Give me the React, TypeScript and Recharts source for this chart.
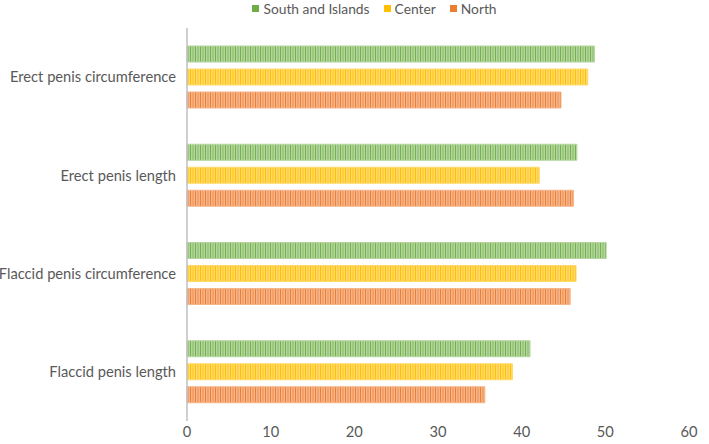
import React from "react";
import { BarChart, Bar, XAxis, YAxis, Legend } from "recharts";

const categories = [
  "Erect penis circumference",
  "Erect penis length",
  "Flaccid penis circumference",
  "Flaccid penis length",
];
const southAndIslands = [48.7, 46.6, 50.1, 41.0];
const center = [47.9, 42.1, 46.5, 38.9];
const north = [44.7, 46.2, 45.8, 35.6];
const xTicks = [0, 10, 20, 30, 40, 50, 60];

const seriesInfo = [
  { key: "south", name: "South and Islands", color: "#70ad47", bg: "#b4d69e", stripe: "#74b04c" },
  { key: "center", name: "Center", color: "#ffc000", bg: "#ffda6b", stripe: "#ffc000" },
  { key: "north", name: "North", color: "#ed7d31", bg: "#f5b58a", stripe: "#ee7f36" },
];

const data = categories.map((c, i) => ({
  name: c,
  south: southAndIslands[i],
  center: center[i],
  north: north[i],
}));

const FONT = "Lato, 'Open Sans', sans-serif";
const TEXT = "#595959";

const LegendContent = () => (
  <div
    style={{
      display: "flex",
      justifyContent: "center",
      alignItems: "center",
      fontFamily: FONT,
      fontSize: 13.8,
      color: TEXT,
      gap: 14,
      paddingLeft: 40,
      height: 16,
    }}
  >
    {seriesInfo.map((s) => (
      <div key={s.key} style={{ display: "flex", alignItems: "center" }}>
        <span
          style={{
            display: "inline-block",
            width: 7,
            height: 7,
            background: s.color,
            marginRight: 4,
          }}
        />
        <span>{s.name}</span>
      </div>
    ))}
  </div>
);

export default function App() {
  return (
    <div style={{ position: "absolute", left: 0, top: 0, width: 709, height: 444, background: "#fff" }}>
      <svg width={0} height={0} style={{ position: "absolute" }}>
        <defs>
          {seriesInfo.map((s) => (
            <pattern
              key={s.key}
              id={`pat-${s.key}`}
              patternUnits="userSpaceOnUse"
              width={5}
              height={10}
            >
              <rect x={0} y={0} width={5} height={10} fill={s.bg} />
              <rect x={0} y={0} width={1} height={10} fill={s.stripe} />
              <rect x={2.5} y={0} width={1} height={10} fill={s.stripe} opacity={0.7} />
            </pattern>
          ))}
        </defs>
      </svg>
      <BarChart
        width={709}
        height={444}
        data={data}
        layout="vertical"
        margin={{ top: 12, right: 20, bottom: 0, left: 0 }}
        barSize={16}
        barGap={7}
      >
        <Legend
          verticalAlign="top"
          height={16}
          content={<LegendContent />}
          wrapperStyle={{ position: "absolute", top: 0, left: 0, width: 709, height: 16 }}
        />
        <XAxis
          type="number"
          domain={[0, 60]}
          ticks={xTicks}
          axisLine={false}
          tickLine={false}
          tickSize={0}
          tickMargin={6}
          height={23}
          tick={{ fill: TEXT, fontSize: 14.7, fontFamily: FONT }}
          interval={0}
        />
        <YAxis
          type="category"
          dataKey="name"
          width={187}
          axisLine={{ stroke: "#bfbfbf", strokeWidth: 1.5 }}
          tickLine={false}
          tickSize={0}
          tickMargin={11}
          tick={{ fill: TEXT, fontSize: 14.7, fontFamily: FONT }}
          interval={0}
        />
        {seriesInfo.map((s) => (
          <Bar
            key={s.key}
            dataKey={s.key}
            name={s.name}
            fill={`url(#pat-${s.key})`}
            stroke={s.bg}
            strokeWidth={1}
            isAnimationActive={false}
          />
        ))}
      </BarChart>
    </div>
  );
}
